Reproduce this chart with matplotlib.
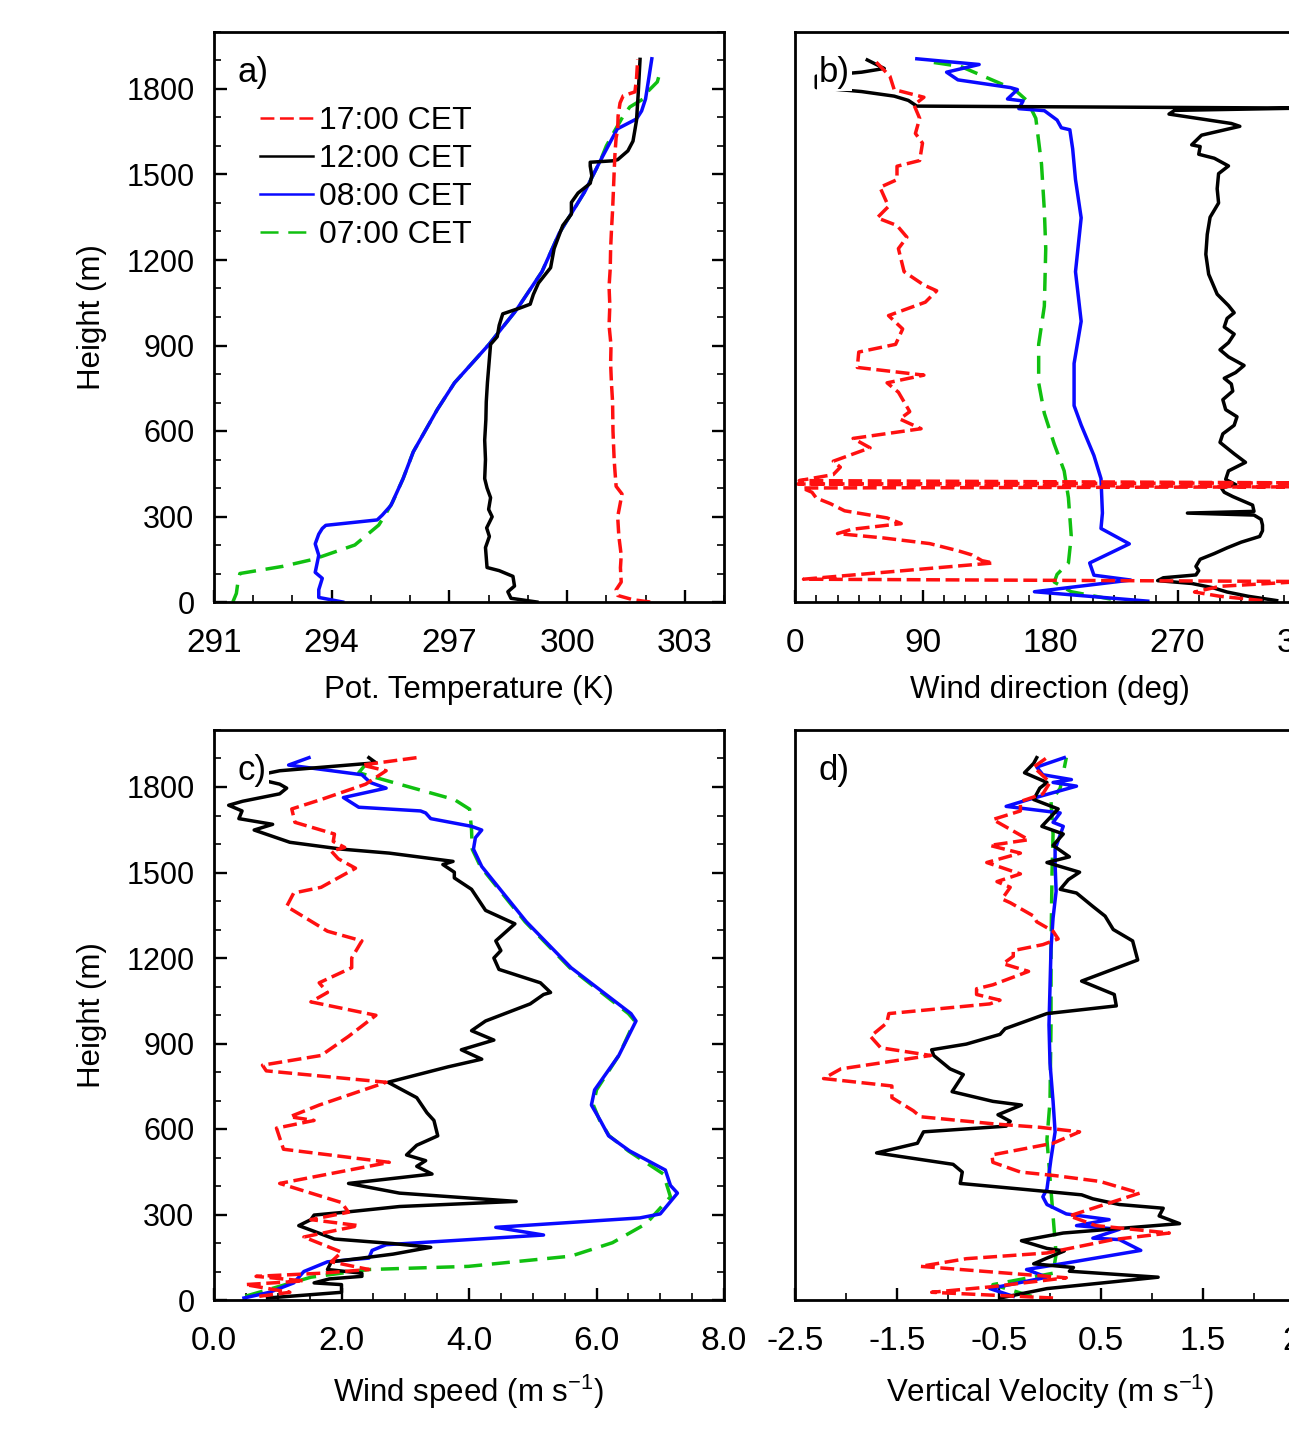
import matplotlib
matplotlib.use("Agg")
import matplotlib.pyplot as plt
from matplotlib.ticker import MultipleLocator

plt.rcParams['font.family'] = ['Liberation Sans', 'DejaVu Sans']
plt.rcParams['lines.scale_dashes'] = False
plt.rcParams['mathtext.default'] = 'regular'

# ---------------------------------------------------------------
#  Data (height in m, value)
# ---------------------------------------------------------------
times = ["17:00 CET", "12:00 CET", "08:00 CET", "07:00 CET"]

# a) potential temperature (K)
z_a17 = [0, 8, 23, 43, 70, 120, 164, 230, 299, 379, 406, 460, 500, 600, 702, 770, 837, 900, 971, 1040, 1106, 1170, 1240, 1300, 1375, 1440, 1509, 1570, 1629, 1657, 1705, 1751, 1776, 1790, 1837, 1904]
th_a17 = [302.12, 301.68, 301.29, 301.25, 301.38, 301.36, 301.38, 301.32, 301.29, 301.40, 301.25, 301.22, 301.20, 301.17, 301.16, 301.13, 301.11, 301.12, 301.07, 301.09, 301.07, 301.10, 301.11, 301.13, 301.16, 301.18, 301.20, 301.22, 301.25, 301.29, 301.30, 301.35, 301.43, 301.73, 301.77, 301.80]
z_a12 = [0, 13, 36, 56, 90, 110, 121, 191, 230, 260, 299, 325, 366, 400, 433, 500, 568, 640, 702, 770, 837, 904, 931, 971, 1011, 1031, 1045, 1079, 1119, 1173, 1240, 1321, 1361, 1402, 1435, 1469, 1496, 1530, 1543, 1548, 1552, 1583, 1617, 1657, 1690, 1776, 1904]
th_a12 = [299.23, 298.57, 298.49, 298.66, 298.62, 298.27, 297.96, 297.92, 298.02, 297.95, 298.09, 298.00, 298.05, 297.96, 297.90, 297.92, 297.90, 297.93, 297.94, 297.97, 298.01, 298.05, 298.22, 298.27, 298.36, 298.79, 299.06, 299.14, 299.27, 299.58, 299.67, 299.89, 300.11, 300.11, 300.28, 300.59, 300.63, 300.59, 300.59, 301.16, 301.29, 301.55, 301.68, 301.73, 301.77, 301.81, 301.86]
z_a08 = [0, 16, 43, 83, 104, 137, 164, 204, 238, 258, 269, 288, 305, 339, 433, 527, 675, 769, 904, 1025, 1159, 1294, 1442, 1549, 1629, 1660, 1695, 1723, 1765, 1835, 1906]
th_a08 = [294.28, 293.67, 293.67, 293.76, 293.58, 293.63, 293.67, 293.58, 293.67, 293.76, 293.85, 295.16, 295.29, 295.51, 295.82, 296.08, 296.69, 297.13, 298.01, 298.71, 299.36, 299.80, 300.46, 300.85, 301.16, 301.28, 301.77, 301.90, 302.00, 302.08, 302.16]
z_a07 = [0, 30, 70, 100, 125, 150, 200, 270, 310, 350, 433, 527, 675, 769, 904, 1025, 1159, 1294, 1442, 1549, 1600, 1650, 1705, 1737, 1765, 1793, 1825, 1864]
th_a07 = [291.48, 291.57, 291.61, 291.66, 292.75, 293.54, 294.59, 295.20, 295.38, 295.55, 295.82, 296.08, 296.69, 297.13, 298.01, 298.71, 299.36, 299.80, 300.46, 300.85, 301.00, 301.20, 301.43, 301.60, 301.94, 302.07, 302.30, 302.38]

# b) wind direction (deg)
z_b17 = [5, 20, 35, 55, 72, 80, 137, 145, 165, 180, 205, 225, 240, 255, 275, 295, 320, 345, 365, 385, 400, 404, 414, 418, 426, 447, 473, 494, 541, 574, 608, 642, 668, 736, 769, 796, 823, 877, 904, 958, 1005, 1052, 1092, 1112, 1159, 1240, 1280, 1321, 1348, 1388, 1455, 1482, 1529, 1549, 1610, 1644, 1697, 1744, 1771, 1798, 1845, 1906]
wd_b17 = [330, 300, 282, 300, 359, 6, 140, 132, 125, 115, 95, 62, 30, 40, 75, 65, 35, 25, 15, 12, 5, 359, 2, 359, 3, 27, 32, 27, 53, 41, 89, 74, 81, 73, 65, 91, 44, 45, 71, 76, 66, 92, 100, 91, 77, 73, 79, 72, 58, 66, 60, 72, 72, 88, 90, 85, 88, 84, 91, 70, 67, 55]
z_b12 = [5, 20, 35, 50, 65, 75, 85, 95, 110, 125, 150, 170, 190, 210, 230, 250, 270, 290, 305, 312, 318, 340, 370, 385, 400, 412, 430, 460, 490, 520, 560, 590, 620, 650, 675, 710, 740, 765, 785, 805, 830, 860, 885, 910, 940, 965, 995, 1015, 1040, 1080, 1150, 1220, 1290, 1350, 1400, 1450, 1503, 1530, 1557, 1571, 1598, 1604, 1638, 1669, 1679, 1712, 1725, 1733, 1740, 1760, 1775, 1791, 1805, 1845, 1859, 1872, 1902]
wd_b12 = [340, 320, 305, 295, 280, 256, 260, 283, 285, 283, 286, 296, 305, 315, 328, 330, 330, 329, 324, 277, 324, 323, 309, 303, 301, 311, 304, 306, 318, 310, 300, 302, 310, 312, 304, 302, 309, 308, 303, 311, 317, 306, 300, 306, 310, 303, 305, 310, 306, 298, 292, 290, 291, 293, 299, 298, 299, 306, 296, 285, 286, 280, 287, 314, 308, 264, 268, 359, 86, 80, 70, 47, 15, 15, 47, 63, 51]
z_b08 = [3, 36, 77, 94, 137, 204, 258, 312, 433, 514, 621, 689, 837, 985, 1159, 1348, 1482, 1590, 1657, 1664, 1691, 1724, 1731, 1758, 1765, 1798, 1805, 1832, 1859, 1886, 1906]
wd_b08 = [249, 169, 237, 211, 208, 236, 216, 217, 216, 211, 202, 197, 197, 202, 198, 202, 198, 196, 194, 188, 185, 176, 158, 161, 150, 157, 152, 115, 107, 130, 86]
z_b07 = [10, 36, 70, 97, 137, 231, 366, 460, 554, 662, 769, 904, 1038, 1240, 1375, 1536, 1697, 1758, 1798, 1845, 1879, 1893]
wd_b07 = [223, 195, 183, 185, 193, 195, 193, 190, 183, 176, 172, 172, 176, 177, 176, 174, 170, 164, 155, 133, 117, 98]

# c) wind speed (m/s)
z_c17 = [13, 27, 54, 67, 83, 94, 107, 134, 168, 221, 261, 282, 308, 342, 409, 483, 529, 603, 630, 643, 684, 764, 804, 824, 858, 925, 999, 1046, 1079, 1113, 1166, 1200, 1260, 1294, 1381, 1428, 1448, 1515, 1548, 1575, 1588, 1609, 1635, 1676, 1723, 1756, 1810, 1857, 1877, 1903]
ws_c17 = [0.71, 1.19, 0.49, 1.41, 0.66, 1.68, 2.43, 1.84, 2.00, 1.41, 2.27, 1.52, 2.11, 2.00, 1.03, 2.75, 1.09, 0.98, 1.57, 1.19, 1.65, 2.70, 0.82, 0.76, 1.68, 2.11, 2.54, 1.52, 1.78, 1.65, 2.16, 2.16, 2.32, 1.78, 1.14, 1.25, 1.68, 2.22, 1.95, 1.84, 2.05, 1.87, 1.89, 1.27, 1.22, 1.68, 2.38, 2.70, 2.32, 3.18]
z_c12 = [7, 27, 54, 60, 74, 83, 94, 107, 134, 147, 161, 185, 198, 214, 241, 261, 282, 298, 308, 328, 346, 375, 409, 442, 469, 489, 509, 543, 576, 630, 657, 710, 764, 818, 845, 878, 912, 945, 979, 1039, 1072, 1079, 1113, 1160, 1200, 1226, 1260, 1320, 1367, 1441, 1481, 1501, 1528, 1539, 1568, 1582, 1606, 1649, 1669, 1689, 1716, 1736, 1750, 1776, 1796, 1810, 1835, 1857, 1885, 1903]
ws_c12 = [0.84, 2.00, 2.00, 1.57, 1.81, 2.32, 2.32, 1.78, 1.84, 2.32, 2.81, 3.40, 2.81, 1.89, 1.57, 1.33, 1.52, 1.57, 2.05, 2.91, 4.74, 2.91, 2.11, 3.42, 3.18, 3.32, 3.02, 3.18, 3.51, 3.45, 3.34, 3.18, 2.73, 3.67, 4.20, 3.88, 4.39, 4.04, 4.26, 4.96, 5.17, 5.28, 5.12, 4.47, 4.39, 4.50, 4.42, 4.72, 4.26, 4.04, 3.77, 3.77, 3.59, 3.75, 2.75, 2.00, 1.19, 0.63, 0.92, 0.39, 0.44, 0.23, 0.45, 1.03, 1.14, 1.03, 0.55, 1.03, 2.54, 2.43]
z_c08 = [7, 27, 60, 100, 134, 147, 174, 194, 228, 255, 288, 302, 375, 402, 456, 523, 576, 630, 684, 737, 858, 979, 1005, 1166, 1327, 1521, 1582, 1622, 1649, 1662, 1689, 1709, 1716, 1729, 1763, 1796, 1816, 1843, 1877, 1903]
ws_c08 = [0.47, 0.87, 1.25, 1.41, 1.78, 2.43, 2.48, 2.70, 5.17, 4.42, 6.68, 7.00, 7.27, 7.16, 7.08, 6.52, 6.19, 6.06, 5.92, 5.97, 6.35, 6.62, 6.54, 5.60, 4.90, 4.20, 4.07, 4.10, 4.20, 4.04, 3.40, 3.32, 3.24, 2.27, 2.03, 2.70, 2.45, 2.32, 1.17, 1.49]
z_c07 = [13, 80, 107, 118, 154, 201, 268, 362, 442, 523, 576, 630, 684, 737, 858, 979, 1005, 1166, 1327, 1521, 1582, 1649, 1722, 1756, 1816, 1850, 1877, 1903]
ws_c07 = [0.49, 1.52, 2.43, 3.99, 5.60, 6.25, 6.78, 7.16, 7.05, 6.50, 6.20, 6.05, 5.95, 6.00, 6.35, 6.60, 6.50, 5.58, 4.88, 4.18, 4.05, 4.04, 4.01, 3.77, 2.81, 2.27, 2.37, 2.43]

# d) vertical velocity (m/s)
z_d17 = [7, 27, 47, 78, 118, 145, 165, 212, 235, 261, 295, 375, 416, 436, 449, 483, 509, 550, 590, 606, 617, 643, 664, 710, 751, 777, 811, 858, 885, 925, 972, 1005, 1039, 1052, 1072, 1092, 1106, 1153, 1180, 1206, 1226, 1247, 1267, 1294, 1327, 1347, 1394, 1407, 1448, 1468, 1495, 1535, 1568, 1595, 1615, 1686, 1716, 1749, 1776, 1816, 1870, 1903]
w_d17 = [0.03, -1.16, -0.56, 0.16, -1.27, -0.82, -0.03, 0.62, 1.17, 0.45, 0.19, 0.88, 0.49, 0.06, -0.29, -0.56, -0.57, 0.03, 0.29, -0.10, -0.52, -1.27, -1.34, -1.55, -1.55, -2.22, -2.05, -1.17, -1.66, -1.76, -1.60, -1.58, -0.59, -0.49, -0.72, -0.72, -0.56, -0.21, -0.46, -0.36, -0.36, -0.07, 0.08, 0.03, -0.13, -0.16, -0.39, -0.47, -0.39, -0.52, -0.29, -0.62, -0.29, -0.59, -0.21, -0.56, -0.29, -0.29, -0.07, 0.00, -0.16, -0.03]
z_d12 = [7, 40, 80, 101, 114, 127, 147, 172, 181, 208, 235, 268, 295, 322, 335, 355, 369, 382, 409, 449, 476, 516, 550, 590, 610, 627, 650, 684, 697, 731, 791, 811, 858, 878, 898, 932, 952, 1005, 1032, 1072, 1119, 1193, 1260, 1300, 1347, 1381, 1428, 1441, 1475, 1501, 1535, 1555, 1595, 1635, 1662, 1723, 1756, 1796, 1816, 1850, 1883, 1903]
w_d12 = [-0.49, -0.03, 1.06, 0.19, 0.23, -0.16, -0.03, 0.14, -0.03, -0.28, 0.13, 1.27, 1.07, 1.11, 0.68, 0.42, 0.31, -0.07, -0.88, -0.86, -0.95, -1.70, -1.30, -1.24, -0.43, -0.39, -0.51, -0.28, -0.56, -0.96, -0.85, -0.98, -1.14, -1.16, -0.82, -0.49, -0.44, -0.03, 0.65, 0.63, 0.31, 0.86, 0.81, 0.62, 0.54, 0.42, 0.26, 0.10, 0.18, 0.29, -0.03, 0.19, 0.03, 0.13, -0.08, 0.08, -0.16, -0.10, -0.03, -0.25, -0.16, -0.13]
z_d08 = [13, 40, 80, 107, 134, 174, 212, 217, 248, 261, 282, 302, 335, 362, 389, 496, 590, 697, 831, 965, 1099, 1233, 1340, 1434, 1528, 1582, 1662, 1676, 1709, 1732, 1756, 1803, 1816, 1826, 1843, 1870, 1903]
w_d08 = [-0.36, -0.59, -0.03, -0.23, 0.23, 0.89, 0.68, 0.42, 0.68, 0.26, 0.58, 0.16, -0.03, -0.07, -0.03, 0.01, 0.05, 0.03, 0.00, -0.01, 0.00, 0.01, 0.03, 0.06, 0.05, 0.05, 0.13, 0.03, 0.10, -0.43, -0.21, 0.26, 0.03, 0.21, -0.07, -0.13, 0.14]
z_d07 = [13, 54, 94, 161, 295, 429, 563, 697, 965, 1233, 1501, 1635, 1749, 1796, 1903]
w_d07 = [-0.18, -0.56, 0.03, 0.06, 0.03, 0.00, -0.03, 0.00, 0.01, 0.01, 0.02, 0.03, 0.01, 0.10, 0.16]

# ---------------------------------------------------------------
#  Styles
# ---------------------------------------------------------------
colors = ["#ff1010", "black", "#0a0aff", "#10c010"]
dashes = [(10, 4), None, None, (13, 7)]
LW = 2.5
LABEL_FS = 22.5


def draw(ax, series, order=(3, 2, 1, 0)):
    handles = {}
    for i in order:
        z, v = series[i]
        ln, = ax.plot(v, z, color=colors[i], lw=LW, label=times[i])
        if dashes[i] is not None:
            ln.set_dashes(dashes[i])
        handles[i] = ln
    return [handles[i] for i in range(4)]


def style(ax, xlim, xmaj, xmin, xlabel, ylabels, xfmt=None):
    ax.set_xlim(*xlim)
    ax.set_ylim(0, 2000)
    ax.xaxis.set_major_locator(MultipleLocator(xmaj))
    ax.xaxis.set_minor_locator(MultipleLocator(xmin))
    ax.yaxis.set_major_locator(MultipleLocator(300))
    ax.yaxis.set_minor_locator(MultipleLocator(100))
    if xfmt:
        ax.xaxis.set_major_formatter(xfmt)
    for s in ax.spines.values():
        s.set_linewidth(2.0)
    ax.tick_params(axis='x', which='both', direction='in', top=False, bottom=True)
    ax.tick_params(axis='x', which='major', length=9, width=1.7, labelsize=24, pad=19)
    ax.tick_params(axis='x', which='minor', length=5, width=1.2)
    ax.tick_params(axis='y', which='both', direction='in', right=True,
                   left=ylabels, labelleft=ylabels)
    ax.tick_params(axis='y', which='major', length=9, width=1.7, labelsize=22, pad=14)
    ax.tick_params(axis='y', which='minor', length=5, width=1.2)
    ax.set_xlabel(xlabel, fontsize=LABEL_FS, labelpad=11)
    if ylabels:
        ax.set_ylabel("Height (m)", fontsize=LABEL_FS, labelpad=14)


def panel_label(ax, txt):
    ax.text(0.047, 0.958, txt, transform=ax.transAxes, fontsize=25,
            ha='left', va='top', zorder=10,
            bbox=dict(facecolor='white', edgecolor='none', pad=1.5))


W, H = 1289, 1442
fig = plt.figure(figsize=(W / 100, H / 100), dpi=100)

def box(l, t, r, b):
    return [l / W, 1 - b / H, (r - l) / W, (b - t) / H]

ax_a = fig.add_axes(box(214, 32, 724, 602))
ax_b = fig.add_axes(box(795, 32, 1305, 602))
ax_c = fig.add_axes(box(214, 730, 724, 1300))
ax_d = fig.add_axes(box(795, 730, 1305, 1300))

hs = draw(ax_a, [(z_a17, th_a17), (z_a12, th_a12), (z_a08, th_a08), (z_a07, th_a07)])
draw(ax_b, [(z_b17, wd_b17), (z_b12, wd_b12), (z_b08, wd_b08), (z_b07, wd_b07)])
draw(ax_c, [(z_c17, ws_c17), (z_c12, ws_c12), (z_c08, ws_c08), (z_c07, ws_c07)])
draw(ax_d, [(z_d17, w_d17), (z_d12, w_d12), (z_d08, w_d08), (z_d07, w_d07)])

one_dec = plt.FuncFormatter(lambda v, p: f"{v:.1f}")
style(ax_a, (291, 304), 3, 1, "Pot. Temperature (K)", True)
style(ax_b, (0, 360), 90, 15, "Wind direction (deg)", False)
style(ax_c, (0, 8), 2, 0.5, "Wind speed (m s$^{-1}$)", True, xfmt=one_dec)
style(ax_d, (-2.5, 2.5), 1, 0.5, "Vertical Velocity (m s$^{-1}$)", False, xfmt=one_dec)
ax_d.xaxis.set_major_locator(plt.FixedLocator([-2.5, -1.5, -0.5, 0.5, 1.5, 2.5]))

for ax, t in zip([ax_a, ax_b, ax_c, ax_d], ["a)", "b)", "c)", "d)"]):
    panel_label(ax, t)

leg = ax_a.legend(handles=hs, loc='upper left', bbox_to_anchor=(0.09, 0.87),
                  frameon=False, fontsize=23, handlelength=1.65,
                  handletextpad=0.2, labelspacing=0.25, borderpad=0,
                  borderaxespad=0)
for ln in leg.get_lines():
    ln.set_linewidth(1.8)

fig.savefig("out.png", dpi=100)
